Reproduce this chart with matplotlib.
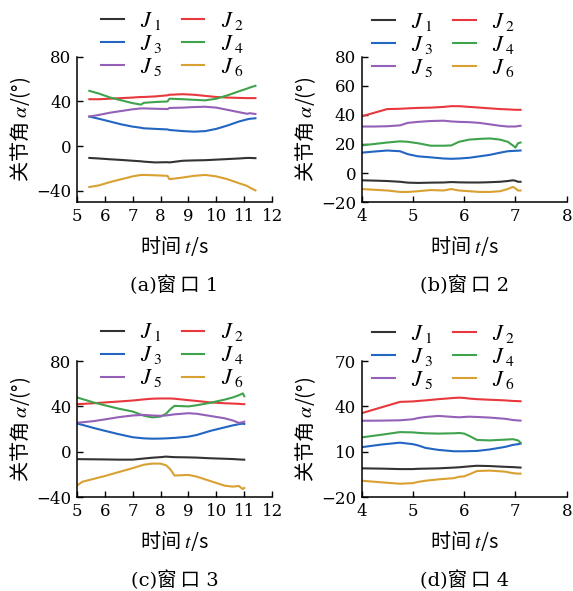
# Joint angle curves for four windows (2x2 panels)
import matplotlib
matplotlib.use('Agg')
import matplotlib.pyplot as plt

plt.rcParams['mathtext.fontset'] = 'stix'
plt.rcParams['font.family'] = ['Noto Sans CJK SC', 'DejaVu Sans']

joint_labels = ['$J_{\\;1}$', '$J_{\\;2}$', '$J_{\\;3}$',
                '$J_{\\;4}$', '$J_{\\;5}$', '$J_{\\;6}$']
joint_colors = ['#333333', '#e8383d', '#2265c2', '#3fa34d', '#9460b8', '#d9a032']

# window 1
t_a = [5.45, 5.8, 6.2, 6.6, 7.0, 7.3, 7.4, 7.8, 8.25, 8.32, 8.8, 9.2, 9.6,
       10.0, 10.4, 10.8, 11.1, 11.2, 11.4]
j1_a = [-10.5, -11, -11.7, -12.3, -13, -13.5, -13.8, -14.5, -14.3, -14.5, -13,
        -12.7, -12.5, -12, -11.5, -11, -10.5, -10.5, -10.7]
j2_a = [42, 42, 42.5, 43, 43.5, 44, 44, 44.5, 45.5, 46, 46.5, 46, 45, 44, 43.5,
        43.2, 43, 43, 43]
j3_a = [26.5, 24.5, 22, 19.5, 17.5, 16.5, 16, 15.5, 15, 14.5, 13.5, 13, 13.5,
        15.5, 18.5, 22, 24, 24.5, 25]
j4_a = [49.5, 47, 43.5, 41, 38.5, 37.2, 38.8, 39.5, 40, 42.5, 42, 41.5, 41,
        42.5, 45.5, 49, 51.5, 52.5, 54]
j5_a = [26.5, 28, 30, 31.5, 33, 33.8, 33.8, 33.5, 33.2, 34.2, 34.5, 35, 35.3,
        34.5, 32.5, 30.5, 29, 29.5, 28.8]
j6_a = [-36.5, -35, -32, -29.5, -27, -25.7, -25.7, -26, -26.5, -29.5, -28,
        -26.5, -25.7, -27, -29.5, -33, -35.5, -37, -39.5]

# window 2
t_b = [4.0, 4.25, 4.5, 4.75, 4.9, 5.1, 5.35, 5.6, 5.75, 5.9, 6.1, 6.3, 6.5,
       6.7, 6.85, 6.95, 7.0, 7.05, 7.1]
j1_b = [-5, -5.2, -5.5, -6, -6.6, -6.8, -6.6, -6.5, -6.2, -6.4, -6.5, -6.5,
        -6.3, -6, -5.5, -5, -5.3, -6, -6]
j2_b = [39, 41.5, 44, 44.2, 44.5, 44.8, 45, 45.5, 46, 46, 45.5, 45, 44.5, 44,
        43.8, 43.6, 43.5, 43.5, 43.5]
j3_b = [14, 14.8, 15.5, 15, 13, 11.5, 10.8, 10, 9.8, 10, 10.5, 11.5, 12.5, 14,
        15, 15.2, 15.3, 15.4, 15.5]
j4_b = [19, 20, 21, 21.8, 21.5, 20.5, 18.8, 18.8, 19, 21.5, 23, 23.5, 23.8,
        23, 21.5, 19, 17.5, 20.5, 21]
j5_b = [32, 32, 32.2, 32.8, 34.5, 35.2, 35.8, 36, 35.5, 35.2, 35, 34.5, 33.5,
        32.5, 32, 32, 32, 32.3, 32.5]
j6_b = [-11, -11.5, -12, -13, -13, -12.5, -11.7, -12, -11, -12, -12.5, -13,
        -13, -12.5, -11, -9.5, -10.5, -12, -12]

# window 3
t_c = [5.0, 5.2, 5.6, 6.0, 6.5, 7.0, 7.4, 7.7, 8.0, 8.2, 8.35, 8.5, 9.0, 9.3,
       9.8, 10.3, 10.6, 10.8, 10.95, 11.0]
j1_c = [-6.5, -6.6, -6.7, -6.8, -7, -7, -6, -5.3, -4.8, -4.3, -4.6, -4.8, -5,
        -5.2, -5.8, -6.2, -6.5, -6.8, -7, -7]
j2_c = [42, 42.2, 42.8, 43.5, 44.3, 45.2, 46.2, 46.8, 47, 47, 47, 46.8, 45.5,
        44.8, 43.5, 42.8, 42.5, 42.3, 42, 42]
j3_c = [25, 23.7, 21, 18.5, 15.5, 12.8, 11.8, 11.5, 11.6, 11.8, 12, 12.2,
        13.3, 14.8, 18.5, 21.5, 23.3, 24.3, 24.8, 24.5]
j4_c = [48, 46.5, 43.5, 41, 38, 35.5, 31.8, 30.3, 31, 33.5, 37.5, 40.5, 40,
        41, 43.3, 46, 48, 49.8, 51.5, 49]
j5_c = [25.5, 26, 27, 28.5, 30.5, 32, 32.5, 32, 31.7, 32, 32.5, 33, 34, 33.5,
        31.5, 29.5, 27.5, 25.5, 26, 26.5]
j6_c = [-30, -26.5, -24, -21.5, -18, -14.5, -11.5, -10.5, -10.5, -12, -15.5,
        -21, -20.5, -22, -26, -30, -30.8, -30.2, -33, -32]

# window 4
t_d = [4.0, 4.4, 4.75, 5.0, 5.1, 5.25, 5.5, 5.8, 5.9, 6.0, 6.1, 6.25, 6.5,
       6.8, 6.95, 7.05, 7.1]
j1_d = [-1, -1.2, -1.5, -1.5, -1.3, -1.2, -1, -0.5, -0.3, 0, 0.3, 0.7, 0.5, 0,
        -0.2, -0.4, -0.5]
j2_d = [35.5, 39.5, 43, 43.3, 43.6, 44, 44.8, 45.6, 45.8, 45.6, 45.2, 44.8,
        44.4, 44, 43.6, 43.5, 43.4]
j3_d = [13, 14.8, 16, 15, 14.2, 12.5, 11.2, 10.3, 10.3, 10.3, 10.4, 10.5,
        11.5, 13.2, 14.5, 15, 15.3]
j4_d = [19.5, 21.3, 23, 22.8, 22.5, 22.2, 22, 22.2, 22.4, 22, 20.5, 17.8,
        17.5, 18, 18.3, 17.5, 16]
j5_d = [30.5, 30.6, 30.8, 31.5, 32.3, 33, 33.7, 33, 32.8, 33, 33.2, 33, 32.6,
        31.8, 31, 30.7, 30.6]
j6_d = [-9.2, -10.3, -11.2, -10.8, -10, -9.2, -8.3, -7.5, -6.6, -6.3, -5,
        -2.8, -2.5, -3.2, -4.2, -4.5, -4.5]

panels = [
    dict(t=t_a, series=[j1_a, j2_a, j3_a, j4_a, j5_a, j6_a], xlim=(5, 12),
         xticks=range(5, 13), ylim=(-50, 80), yticks=[-40, 0, 40, 80],
         caption='(a)窗\u2009口 1', rect=[0.134, 0.658, 0.341, 0.246],
         leg=(0.49, 1.09)),
    dict(t=t_b, series=[j1_b, j2_b, j3_b, j4_b, j5_b, j6_b], xlim=(4, 8),
         xticks=range(4, 9), ylim=(-20, 80), yticks=range(-20, 81, 20),
         caption='(b)窗\u2009口 2', rect=[0.631, 0.658, 0.358, 0.246],
         leg=(0.40, 1.085)),
    dict(t=t_c, series=[j1_c, j2_c, j3_c, j4_c, j5_c, j6_c], xlim=(5, 12),
         xticks=range(5, 13), ylim=(-40, 80), yticks=[-40, 0, 40, 80],
         caption='(c)窗\u2009口 3', rect=[0.134, 0.159, 0.341, 0.230],
         leg=(0.49, 1.045)),
    dict(t=t_d, series=[j1_d, j2_d, j3_d, j4_d, j5_d, j6_d], xlim=(4, 8),
         xticks=range(4, 9), ylim=(-20, 70), yticks=[-20, 10, 40, 70],
         caption='(d)窗\u2009口 4', rect=[0.631, 0.159, 0.358, 0.230],
         leg=(0.40, 1.035)),
]

fig = plt.figure(figsize=(5.73, 5.91), dpi=100)

for p in panels:
    ax = fig.add_axes(p['rect'])
    lines = []
    for vals, lab, col in zip(p['series'], joint_labels, joint_colors):
        ln, = ax.plot(p['t'], vals, color=col, lw=1.5, label=lab)
        lines.append(ln)
    ax.set_xlim(*p['xlim'])
    ax.set_ylim(*p['ylim'])
    ax.set_xticks(list(p['xticks']))
    ax.set_yticks(list(p['yticks']))
    for s in ['top', 'right']:
        ax.spines[s].set_visible(False)
    for s in ['left', 'bottom']:
        ax.spines[s].set_linewidth(1.1)
    ax.tick_params(direction='in', length=4, width=1.0, labelsize=12, pad=4)
    for lab in ax.get_xticklabels() + ax.get_yticklabels():
        lab.set_fontfamily('DejaVu Serif')
    ax.set_xlabel('时间 $t$/s', fontsize=14.5, labelpad=7)
    ax.set_ylabel('关节角 $\\alpha$/(°)', fontsize=14.5, labelpad=2)

    # legend rows read J1 J2 / J3 J4 / J5 J6
    order = [0, 2, 4, 1, 3, 5]
    ax.legend([lines[i] for i in order], [joint_labels[i] for i in order],
              ncol=2, loc='center', bbox_to_anchor=p['leg'], frameon=False,
              fontsize=16, handlelength=1.0, handletextpad=0.75,
              columnspacing=0.9, labelspacing=0.0, borderpad=0)

    bb = ax.get_position()
    fig.text((bb.x0 + bb.x1) / 2, bb.y0 - 0.14, p['caption'],
             ha='center', va='center', fontsize=14,
             family=['DejaVu Serif', 'Noto Sans CJK SC'])

fig.savefig('out.png', dpi=100)
